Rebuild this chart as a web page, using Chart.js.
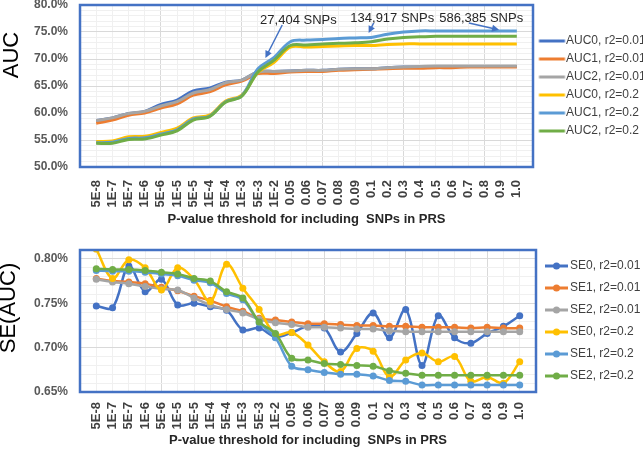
<!DOCTYPE html>
<html>
<head>
<meta charset="utf-8">
<script src="https://cdn.jsdelivr.net/npm/chart.js@4.4.1/dist/chart.umd.min.js"></script>
<style>
  body { margin: 0; background: #fff; }
  canvas { display: block; }
</style>
</head>
<body>
<canvas id="aucChart" width="643" height="230"></canvas>
<canvas id="seChart" width="643" height="221"></canvas>
<script>
// p-value thresholds (x categories)
const pLabels = ['5E-8', '1E-7', '5E-7', '1E-6', '5E-6', '1E-5', '5E-5', '1E-4', '5E-4', '1E-3',
  '5E-3', '1E-2', '0.05', '0.06', '0.07', '0.08', '0.09', '0.1', '0.2', '0.3', '0.4', '0.5',
  '0.6', '0.7', '0.8', '0.9', '1.0'];

// AUC (%)
const auc0_001 = [58.6, 59.1, 59.9, 60.3, 61.6, 62.4, 64.1, 64.6, 65.7, 66.1, 67.6, 67.7, 67.8, 67.9, 67.9, 68.1, 68.2, 68.2, 68.4, 68.5, 68.5, 68.6, 68.6, 68.6, 68.6, 68.6, 68.6];
const auc1_001 = [58.1, 58.7, 59.6, 60.0, 60.9, 61.7, 63.3, 63.9, 65.2, 65.9, 67.3, 67.3, 67.6, 67.7, 67.7, 67.9, 68.0, 68.1, 68.2, 68.3, 68.3, 68.4, 68.4, 68.5, 68.5, 68.5, 68.5];
const auc2_001 = [58.6, 59.1, 59.9, 60.3, 61.3, 62.1, 63.7, 64.3, 65.6, 66.1, 67.6, 67.7, 67.8, 67.9, 67.9, 68.1, 68.2, 68.2, 68.4, 68.5, 68.6, 68.7, 68.7, 68.7, 68.7, 68.7, 68.7];
const auc0_02 = [54.7, 54.8, 55.6, 55.7, 56.4, 57.2, 59.1, 59.6, 62.2, 63.3, 67.5, 69.4, 72.2, 72.2, 72.3, 72.4, 72.5, 72.5, 72.7, 72.8, 72.8, 72.8, 72.8, 72.8, 72.8, 72.8, 72.8];
const auc1_02 = [54.5, 54.6, 55.3, 55.4, 56.1, 56.9, 58.9, 59.4, 62.1, 63.2, 68.2, 70.3, 73.2, 73.5, 73.6, 73.8, 73.9, 74.0, 74.6, 75.0, 75.2, 75.2, 75.2, 75.2, 75.2, 75.2, 75.2];
const auc2_02 = [54.4, 54.4, 55.1, 55.2, 55.9, 56.7, 58.7, 59.3, 62.0, 63.1, 67.6, 69.8, 72.5, 72.6, 72.8, 72.9, 73.0, 73.2, 73.7, 74.0, 74.1, 74.2, 74.2, 74.2, 74.2, 74.2, 74.2];

// SE(AUC) (%)
const se0_001 = [0.747, 0.745, 0.792, 0.763, 0.777, 0.748, 0.750, 0.746, 0.742, 0.720, 0.722, 0.712, 0.717, 0.724, 0.722, 0.695, 0.716, 0.739, 0.711, 0.743, 0.680, 0.736, 0.711, 0.705, 0.716, 0.724, 0.736];
const se1_001 = [0.778, 0.775, 0.774, 0.772, 0.768, 0.764, 0.758, 0.753, 0.746, 0.741, 0.733, 0.731, 0.729, 0.727, 0.727, 0.726, 0.725, 0.725, 0.724, 0.724, 0.723, 0.723, 0.723, 0.722, 0.723, 0.722, 0.722];
const se2_001 = [0.777, 0.774, 0.772, 0.769, 0.766, 0.765, 0.756, 0.748, 0.743, 0.739, 0.732, 0.728, 0.726, 0.723, 0.723, 0.722, 0.721, 0.721, 0.719, 0.718, 0.718, 0.718, 0.718, 0.718, 0.718, 0.718, 0.718];
const se0_02 = [0.811, 0.778, 0.799, 0.790, 0.765, 0.790, 0.777, 0.752, 0.794, 0.767, 0.743, 0.715, 0.717, 0.703, 0.684, 0.673, 0.699, 0.696, 0.667, 0.686, 0.694, 0.684, 0.690, 0.662, 0.667, 0.660, 0.684];
const se1_02 = [0.787, 0.786, 0.786, 0.785, 0.783, 0.781, 0.776, 0.773, 0.761, 0.754, 0.728, 0.711, 0.679, 0.675, 0.672, 0.670, 0.670, 0.668, 0.663, 0.662, 0.658, 0.658, 0.658, 0.658, 0.658, 0.658, 0.658];
const se2_02 = [0.789, 0.788, 0.788, 0.787, 0.785, 0.783, 0.778, 0.775, 0.763, 0.756, 0.729, 0.716, 0.688, 0.686, 0.682, 0.681, 0.680, 0.679, 0.674, 0.671, 0.669, 0.669, 0.669, 0.669, 0.669, 0.669, 0.669];

const aucNames = ['AUC0, r2=0.01', 'AUC1, r2=0.01', 'AUC2, r2=0.01', 'AUC0, r2=0.2', 'AUC1, r2=0.2', 'AUC2, r2=0.2'];
const seNames = ['SE0, r2=0.01', 'SE1, r2=0.01', 'SE2, r2=0.01', 'SE0, r2=0.2', 'SE1, r2=0.2', 'SE2, r2=0.2'];
const colors = ['#4472C4', '#ED7D31', '#A5A5A5', '#FFC000', '#5B9BD5', '#70AD47'];

// SNP count callouts on the AUC chart (data coords)
const notes = [
  { text: '27,404 SNPs', x: 13.5, y: 77.2, from: [12.5, 76.3], to: [11.46, 70.2] },
  { text: '134,917 SNPs', x: 19.3, y: 77.6, from: [18.15, 76.67], to: [17.84, 74.8] },
  { text: '586,385 SNPs', x: 24.8, y: 77.6, from: [24.04, 76.67], to: [25.9, 75.4] }
];

const FONT = "'Liberation Sans', Arial, sans-serif";
Chart.defaults.font.family = FONT;
Chart.defaults.animation = false;

function toPoints(arr) {
  return arr.map((v, i) => ({ x: i + 1, y: v }));
}

// little line (+dot) image for the legend
function legendIcon(color, dot, from, to, bw) {
  const c = document.createElement('canvas');
  c.width = 60; c.height = 10;
  const g = c.getContext('2d');
  const off = 30 - bw / 2;
  g.strokeStyle = color;
  g.lineWidth = 3;
  g.beginPath(); g.moveTo(off + from, 5); g.lineTo(off + to, 5); g.stroke();
  if (dot) {
    g.fillStyle = color;
    g.beginPath(); g.arc(off + (from + to) / 2, 5, 3.5, 0, Math.PI * 2); g.fill();
  }
  return c;
}

const framePlugin = {
  id: 'frame',
  afterDatasetsDraw(chart) {
    const { ctx, chartArea: a } = chart;
    ctx.save();
    ctx.strokeStyle = '#4472C4';
    ctx.lineWidth = 2.5;
    ctx.strokeRect(a.left, a.top, a.right - a.left, a.bottom - a.top);
    ctx.restore();
  }
};

const sideTitlePlugin = {
  id: 'sideTitle',
  afterDraw(chart, args, o) {
    const ctx = chart.ctx;
    ctx.save();
    ctx.translate(o.x, o.y);
    ctx.rotate(-Math.PI / 2);
    ctx.font = o.size + 'px ' + FONT;
    ctx.fillStyle = '#000';
    ctx.textAlign = 'center';
    ctx.textBaseline = 'middle';
    ctx.fillText(o.text, 0, 0);
    ctx.restore();
  }
};

const notesPlugin = {
  id: 'notes',
  afterDatasetsDraw(chart, args, o) {
    if (!o.items) return;
    const { ctx, scales: { x, y } } = chart;
    ctx.save();
    o.items.forEach(n => {
      ctx.font = '13px ' + FONT;
      ctx.fillStyle = '#262626';
      ctx.textAlign = 'center';
      ctx.textBaseline = 'middle';
      ctx.fillText(n.text, x.getPixelForValue(n.x), y.getPixelForValue(n.y));

      const x1 = x.getPixelForValue(n.from[0]), y1 = y.getPixelForValue(n.from[1]);
      const x2 = x.getPixelForValue(n.to[0]), y2 = y.getPixelForValue(n.to[1]);
      const ang = Math.atan2(y2 - y1, x2 - x1);
      ctx.strokeStyle = '#4472C4';
      ctx.fillStyle = '#4472C4';
      ctx.lineWidth = 1.5;
      ctx.beginPath();
      ctx.moveTo(x1, y1);
      ctx.lineTo(x2 - 5 * Math.cos(ang), y2 - 5 * Math.sin(ang));
      ctx.stroke();
      ctx.beginPath();
      ctx.moveTo(x2, y2);
      ctx.lineTo(x2 - 7 * Math.cos(ang) + 3.5 * Math.sin(ang), y2 - 7 * Math.sin(ang) - 3.5 * Math.cos(ang));
      ctx.lineTo(x2 - 7 * Math.cos(ang) - 3.5 * Math.sin(ang), y2 - 7 * Math.sin(ang) + 3.5 * Math.cos(ang));
      ctx.closePath();
      ctx.fill();
    });
    ctx.restore();
  }
};

function xScale(height, pad) {
  return {
    type: 'linear', min: 0, max: 28,
    afterFit(s) { s.height = height; },
    grid: { color: c => c.tick.value % 5 === 0 ? '#D9D9D9' : '#F0F0F0', drawTicks: false },
    border: { display: false },
    ticks: {
      stepSize: 1, autoSkip: false, minRotation: 90, maxRotation: 90, padding: pad,
      color: '#404040', font: { size: 13, weight: 'bold' },
      callback: v => pLabels[v - 1] || ''
    },
    title: {
      display: true, text: 'P-value threshold for including  SNPs in PRS',
      color: '#262626', font: { size: 13, weight: 'bold' }, padding: { top: 0, bottom: 3 }
    }
  };
}

function legendOpts(width, pad, dot, from, to, bw) {
  return {
    position: 'right', fullSize: false, maxWidth: width,
    labels: {
      usePointStyle: true, pointStyleWidth: bw, boxHeight: 12, padding: pad,
      color: '#404040', font: { size: 12 },
      generateLabels: ch => ch.data.datasets.map((ds, i) => ({
        text: ds.label,
        pointStyle: legendIcon(ds.borderColor, dot, from, to, bw),
        fillStyle: ds.borderColor, strokeStyle: ds.borderColor, lineWidth: 0,
        hidden: false, datasetIndex: i, fontColor: '#404040'
      }))
    }
  };
}

// ---- AUC chart ----
const aucSeries = [auc0_001, auc1_001, auc2_001, auc0_02, auc1_02, auc2_02];
new Chart(document.getElementById('aucChart'), {
  type: 'line',
  data: {
    datasets: aucSeries.map((s, i) => ({
      label: aucNames[i], data: toPoints(s),
      borderColor: colors[i], backgroundColor: colors[i],
      borderWidth: 3, pointRadius: 0, tension: 0.35, order: 6 - i
    }))
  },
  options: {
    responsive: false,
    layout: { padding: { top: 5, left: 0, right: 0, bottom: 0 } },
    scales: {
      x: xScale(63, 13),
      y: {
        min: 50, max: 80,
        afterFit(s) { s.width = 80; s.paddingTop = 0; s.paddingBottom = 0; },
        grid: { color: c => c.tick.value % 5 === 0 ? '#D9D9D9' : '#F0F0F0', drawTicks: false },
        border: { display: false },
        ticks: {
          stepSize: 1, autoSkip: false, padding: 12, color: '#595959',
          font: { size: 12, weight: 'bold' },
          callback: v => v % 5 === 0 ? v.toFixed(1) + '%' : ''
        }
      }
    },
    plugins: {
      legend: legendOpts(110, 6, false, 0, 26, 21),
      tooltip: { enabled: false },
      sideTitle: { text: 'AUC', x: 12, y: 55, size: 22 },
      notes: { items: notes }
    }
  },
  plugins: [framePlugin, sideTitlePlugin, notesPlugin]
});

// ---- SE(AUC) chart ----
const seSeries = [se0_001, se1_001, se2_001, se0_02, se1_02, se2_02];
new Chart(document.getElementById('seChart'), {
  type: 'line',
  data: {
    datasets: seSeries.map((s, i) => ({
      label: seNames[i], data: toPoints(s),
      borderColor: colors[i], backgroundColor: colors[i],
      borderWidth: 2.5, pointRadius: 3.5, pointBorderWidth: 0,
      pointBackgroundColor: colors[i], tension: 0.35, order: 6 - i
    }))
  },
  options: {
    responsive: false,
    layout: { padding: { top: 20, left: 0, right: 0, bottom: 0 } },
    scales: {
      x: xScale(59, 10),
      y: {
        min: 0.65, max: 0.81,
        afterFit(s) { s.width = 80; s.paddingTop = 0; s.paddingBottom = 0; },
        grid: { color: c => Math.round(c.tick.value * 100) % 5 === 0 ? '#D9D9D9' : '#F0F0F0', drawTicks: false },
        border: { display: false },
        ticks: {
          stepSize: 0.01, autoSkip: false, padding: 12, color: '#595959',
          font: { size: 12, weight: 'bold' },
          callback: v => Math.round(v * 100) % 5 === 0 ? v.toFixed(2) + '%' : ''
        }
      }
    },
    plugins: {
      legend: legendOpts(107, 10, true, -1, 22, 18),
      tooltip: { enabled: false },
      sideTitle: { text: 'SE(AUC)', x: 9, y: 78, size: 22 }
    }
  },
  plugins: [framePlugin, sideTitlePlugin]
});
</script>
</body>
</html>
